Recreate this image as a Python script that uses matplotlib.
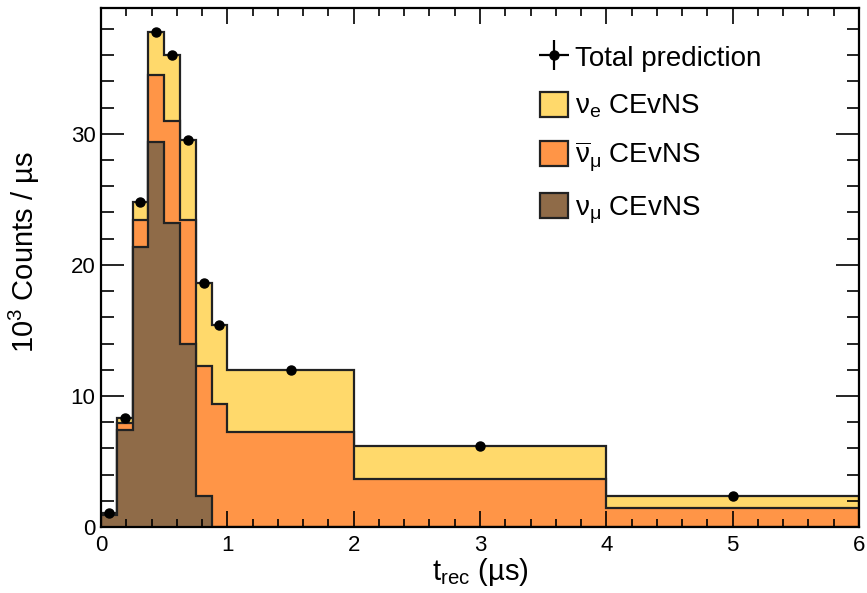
import numpy as np
import matplotlib.pyplot as plt
from matplotlib.lines import Line2D
from matplotlib.patches import Patch

plt.rcParams['font.family'] = ['Liberation Sans', 'DejaVu Sans']
plt.rcParams['mathtext.fontset'] = 'custom'
plt.rcParams['mathtext.rm'] = 'Liberation Sans'
plt.rcParams['mathtext.it'] = 'Liberation Sans'
plt.rcParams['mathtext.default'] = 'regular'

# bin edges in microseconds
edges = [0, 0.125, 0.25, 0.375, 0.5, 0.625, 0.75, 0.875, 1.0, 2.0, 4.0, 6.0]

# 10^3 counts / us per component
numu = [0.9, 7.4, 21.4, 29.4, 23.2, 14.0, 2.4, 0.0, 0.0, 0.0, 0.0]
numubar = [0.1, 0.5, 2.0, 5.1, 7.8, 9.4, 9.9, 9.4, 7.25, 3.7, 1.45]
nue = [0.1, 0.4, 1.4, 3.3, 5.0, 6.1, 6.3, 6.0, 4.75, 2.45, 0.95]

col_nue = '#ffd96b'
col_numubar = '#ff9547'
col_numu = '#8f6b48'

edges = np.array(edges)
numu = np.array(numu)
cum_bar = numu + np.array(numubar)
total = cum_bar + np.array(nue)
centers = 0.5 * (edges[:-1] + edges[1:])

fig = plt.figure(figsize=(8.67, 5.93), dpi=100)
ax = fig.add_axes([0.1165, 0.1113, 0.8743, 0.8752])

# stacked histogram, drawn from the top layer down
for vals, c in [(total, col_nue), (cum_bar, col_numubar), (numu, col_numu)]:
    ax.stairs(vals, edges, fill=True, color=c, lw=0)
    ax.stairs(vals, edges, color='#222222', lw=1.6)

ax.plot(centers, total, 'o', color='black', ms=6.5, zorder=5)

ax.set_xlim(0, 6)
ax.set_ylim(0, 39.6)
ax.set_xticks(range(0, 7))
ax.set_yticks([0, 10, 20, 30])
ax.set_xticks(np.arange(0, 6.01, 0.2), minor=True)
ax.set_yticks(np.arange(0, 39.6, 2), minor=True)
ax.tick_params(which='both', direction='in', top=True, right=True, labelsize=16, width=1.2)
ax.tick_params(axis='x', which='major', length=11.5, pad=6)
ax.tick_params(axis='x', which='minor', length=5.8)
ax.tick_params(axis='y', which='major', length=16.5, pad=4)
ax.tick_params(axis='y', which='minor', length=9)
for s in ax.spines.values():
    s.set_linewidth(1.6)

ax.set_xlabel(r'$t_{rec}$ (µs)', fontsize=21, labelpad=0)
ax.set_ylabel(r'$10^{3}$ Counts / µs', fontsize=21)
ax.yaxis.set_label_coords(-0.078, 0.53)

h_total = (Line2D([], [], color='black', marker='+', ms=22, mew=1.6, ls='none'),
           Line2D([], [], color='black', marker='o', ms=6.5, ls='none'))
handles = [h_total,
           Patch(facecolor=col_nue, edgecolor='#222222', lw=1.6),
           Patch(facecolor=col_numubar, edgecolor='#222222', lw=1.6),
           Patch(facecolor=col_numu, edgecolor='#222222', lw=1.6)]
labels = ['Total prediction', r'$ν_{e}$ CEvNS', r'$\overline{ν}_{μ}$ CEvNS', r'$ν_{μ}$ CEvNS']
ax.legend(handles, labels, loc='upper left', bbox_to_anchor=(0.579, 0.93), frameon=False,
          fontsize=20, handlelength=1.0, handleheight=1.0, handletextpad=0.25,
          labelspacing=0.7, borderpad=0, borderaxespad=0)

fig.savefig('out.png', dpi=100)
